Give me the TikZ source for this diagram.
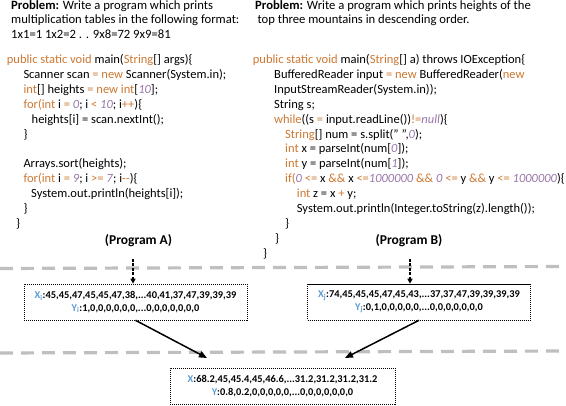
\documentclass[tikz,border=0pt]{standalone}
\usepackage{fontspec}
\setmainfont{Carlito}
\usetikzlibrary{arrows.meta}
\definecolor{kwc}{RGB}{204,120,50}
\definecolor{nmc}{RGB}{152,118,170}
\definecolor{blc}{RGB}{91,155,213}
\definecolor{sepc}{RGB}{191,191,191}
\newcommand\ckw[1]{\textcolor{kwc}{#1}}
\newcommand\cnm[1]{\textcolor{nmc}{\textit{#1}}}
\newcommand\cbl[1]{\textcolor{blc}{#1}}
\begin{document}
\begin{tikzpicture}[x=1pt,y=-1pt,
  codeline/.style={anchor=base west, inner sep=0pt, font=\fontsize{12.5}{14.9}\selectfont},
  probline/.style={anchor=base west, inner sep=0pt, font=\fontsize{12.65}{14.9}\selectfont},
  proglabel/.style={anchor=base, inner sep=0pt, font=\fontsize{13.5}{15}\selectfont\bfseries},
  databox/.style={draw, line width=0.6pt, dash pattern=on 1.2pt off 0.8pt, inner sep=0pt,
    minimum width=223pt, minimum height=36pt, align=center,
    font=\fontsize{10.4}{12.7}\selectfont\bfseries},
  sepline/.style={draw=sepc, line width=3.2pt, dash pattern=on 13pt off 8pt},
  bigarrow/.style={draw, line width=1.5pt, -{Triangle[length=8pt,width=6.5pt]}},
  smallarrow/.style={draw, line width=1.1pt, dash pattern=on 3pt off 1.5pt, -{Triangle[length=5pt,width=5pt]}}]
\useasboundingbox (0,0) rectangle (566,406);

% ---- Problem A ----
\node[probline] (pa1) at (11,9.5) {\textbf{Problem:} Write a program which prints};
\node[probline] (pa2) at (11,24) {multiplication tables in the following format:};
\node[probline] (pa3) at (11,38.5) {1x1=1 1x2=2 . . 9x8=72 9x9=81};

% ---- Program A ----
\node[codeline] (la0) at (6.7,64) {\ckw{public static void} main(\ckw{String}[] args)\{};
\node[codeline] (la1) at (23.3,79) {Scanner scan \ckw{=} \ckw{new} Scanner(System.in);};
\node[codeline] (la2) at (23.3,94) {\ckw{int}[] heights \ckw{=} \ckw{new int}[\cnm{10}];};
\node[codeline] (la3) at (23.3,109) {\ckw{for(int} i \ckw{=} \cnm{0}; i \ckw{<} \cnm{10}; i\ckw{++})\{};
\node[codeline] (la4) at (31.5,123.5) {heights[i] = scan.nextInt();};
\node[codeline] (la5) at (23.3,138.5) {\}};
\node[codeline] (la7) at (23.3,168) {Arrays.sort(heights);};
\node[codeline] (la8) at (23.3,183) {\ckw{for(int} i \ckw{=} \cnm{9}; i \ckw{>=} \cnm{7}; i\ckw{-{}-})\{};
\node[codeline] (la9) at (31,198) {System.out.println(heights[i]);};
\node[codeline] (la10) at (23.3,213) {\}};
\node[codeline] (la11) at (16,228) {\}};
\node[proglabel] (laba) at (138.5,245) {(Program A)};

% ---- Problem B ----
\node[probline] (pb1) at (255,9.5) {\textbf{Problem:} Write a program which prints heights of the};
\node[probline] (pb2) at (257.3,24) {top three mountains in descending order.};

% ---- Program B ----
\node[codeline] (lb0) at (252.7,64) {\ckw{public static void} main(\ckw{String}[] a) throws IOException\{};
\node[codeline] (lb1) at (274,79) {BufferedReader input \ckw{=} \ckw{new} BufferedReader(\ckw{new}};
\node[codeline] (lb2) at (274,94) {InputStreamReader(System.in));};
\node[codeline] (lb3) at (274,109) {String s;};
\node[codeline] (lb4) at (274,123.5) {\ckw{while}((s \ckw{=} input.readLine())\ckw{!=}\cnm{null})\{};
\node[codeline] (lb5) at (285,138.5) {\ckw{String}[] num = s.split(" ",\cnm{0});};
\node[codeline] (lb6) at (285,153) {\ckw{int} x = parseInt(num[\cnm{0}]);};
\node[codeline] (lb7) at (285,168) {\ckw{int} y = parseInt(num[\cnm{1}]);};
\node[codeline] (lb8) at (285,183) {\ckw{if(}\cnm{0} \ckw{<=} x \ckw{\&\&} x \ckw{<=}\cnm{1000000} \ckw{\&\&} \cnm{0} \ckw{<=} y \ckw{\&\&} y \ckw{<=} \cnm{1000000})\{};
\node[codeline] (lb9) at (296.7,198) {\ckw{int} z = x \ckw{+} y;};
\node[codeline] (lb10) at (296.7,213) {System.out.println(Integer.toString(z).length());};
\node[codeline] (lb11) at (285,228) {\}};
\node[codeline] (lb12) at (275,243) {\}};
\node[codeline] (lb13) at (263,258) {\}};
\node[proglabel] (labb) at (409,245) {(Program B)};

% ---- separators ----
\coordinate (s1l) at (0,268.5);
\coordinate (s1r) at (566,266.5);
\coordinate (s2l) at (0,353);
\coordinate (s2r) at (566,351);
\path[sepline] (s1l) -- (s1r);
\path[sepline] (s2l) -- (s2r);

% ---- data boxes ----
\node[databox] (boxa) at (135.5,302) {\cbl{X\textsubscript{i}}:45,45,47,45,45,47,38,...40,41,37,47,39,39,39\\ \cbl{Y\textsubscript{i}}:1,0,0,0,0,0,0,...0,0,0,0,0,0,0};
\node[databox] (boxb) at (419,302) {\cbl{X\textsubscript{j}}:74,45,45,45,47,45,43,...37,37,47,39,39,39,39\\ \cbl{Y\textsubscript{j}}:0,1,0,0,0,0,0,...0,0,0,0,0,0,0};
\node[databox, minimum width=225pt] (boxc) at (282.5,386) {\cbl{X}:68.2,45,45.4,45,46.6,...31.2,31.2,31.2,31.2\\ \cbl{Y}:0.8,0.2,0,0,0,0,0,...0,0,0,0,0,0,0};

% ---- arrows ----
\coordinate (ta) at (133,259);
\coordinate (tb) at (410,259);
\path[smallarrow] (ta) -- (ta |- boxa.north);
\path[smallarrow] (tb) -- (tb |- boxb.north);
\coordinate (ea) at (207,358);
\coordinate (eb) at (345,358);
\path[bigarrow] (boxa.south) -- (ea);
\path[bigarrow] (boxb.south) -- (eb);
\end{tikzpicture}
\end{document}
